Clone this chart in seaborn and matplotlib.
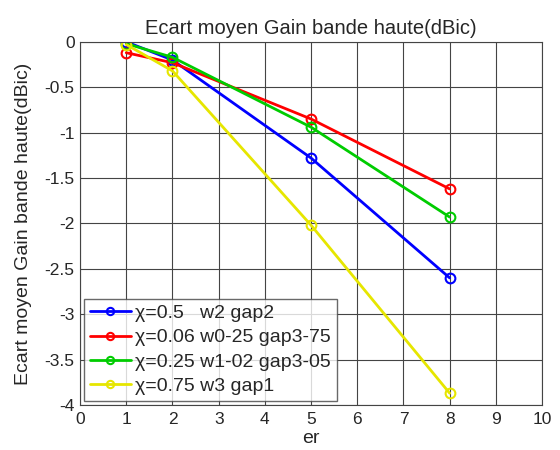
import matplotlib
matplotlib.use("Agg")
import matplotlib.pyplot as plt
import seaborn as sns
import pandas as pd

# === Data ===
er = [1, 2, 5, 8]
series_labels = [
    "χ=0.5   w2 gap2",
    "χ=0.06 w0-25 gap3-75",
    "χ=0.25 w1-02 gap3-05",
    "χ=0.75 w3 gap1",
]
gain_blue = [0.0, -0.20, -1.28, -2.60]
gain_red = [-0.12, -0.23, -0.85, -1.62]
gain_green = [-0.02, -0.17, -0.94, -1.93]
gain_yellow = [-0.03, -0.32, -2.02, -3.87]
colors = ["#0000ff", "#ff0000", "#00cc00", "#e6e600"]

rows = []
for label, vals in zip(series_labels, [gain_blue, gain_red, gain_green, gain_yellow]):
    for x, y in zip(er, vals):
        rows.append({"er": x, "gain": y, "serie": label})
df = pd.DataFrame(rows)

sns.set_style("white")
plt.rcParams["font.family"] = ["Liberation Sans", "DejaVu Sans"]

fig = plt.figure(figsize=(5.6, 4.5), dpi=100)
ax = fig.add_axes([0.143, 0.1, 0.825, 0.807])

sns.lineplot(
    data=df, x="er", y="gain", hue="serie", hue_order=series_labels,
    palette=colors, marker="o", markersize=7, markerfacecolor="none",
    markeredgewidth=1.5, linewidth=2, ax=ax, sort=False,
)
for line, c in zip(ax.get_lines(), colors):
    line.set_markeredgecolor(c)

ax.set_xlim(0, 10)
ax.set_ylim(-4, 0)
ax.set_xticks(range(0, 11))
ax.set_yticks([0, -0.5, -1, -1.5, -2, -2.5, -3, -3.5, -4])
ax.set_yticklabels(["0", "-0.5", "-1", "-1.5", "-2", "-2.5", "-3", "-3.5", "-4"])
ax.tick_params(labelsize=12.5, direction="in", length=4)
ax.tick_params(axis="x", pad=5)
ax.tick_params(axis="y", pad=4)
ax.grid(True, color="#444444", linewidth=0.8)
ax.set_axisbelow(True)
for s in ax.spines.values():
    s.set_color("#444444")

ax.set_title("Ecart moyen Gain bande haute(dBic)", fontsize=14.5, pad=6)
ax.set_xlabel("er", fontsize=14, labelpad=2)
ax.set_ylabel("Ecart moyen Gain bande haute(dBic)", fontsize=14, labelpad=9)

leg = ax.legend(loc="lower left", fontsize=14, frameon=True, fancybox=False,
                edgecolor="#444444", borderaxespad=0.2, handlelength=2.1,
                labelspacing=0.35, handletextpad=0.25, borderpad=0.3,
                markerscale=0.75)
for h, c in zip(leg.get_lines(), colors):
    h.set_markeredgecolor(c)
    h.set_markerfacecolor("none")

fig.savefig("out.png", dpi=100)
